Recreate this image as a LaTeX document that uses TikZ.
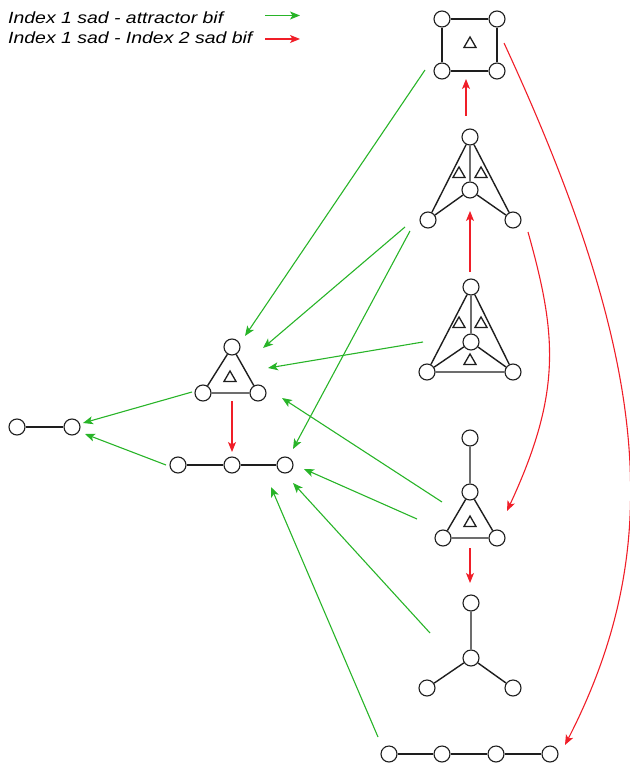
\documentclass[tikz,border=0pt]{standalone}
\usepackage{fontspec}
\setmainfont{Liberation Sans}
\newfontfamily\legendfont[FakeStretch=1.2]{Liberation Sans Italic}
\usetikzlibrary{arrows.meta,shapes.geometric}
\definecolor{grn}{RGB}{40,180,40}
\definecolor{rd}{RGB}{240,30,40}
\definecolor{edge}{RGB}{30,30,30}
\tikzset{
  vtx/.style={draw=edge,circle,fill=white,minimum size=16pt,inner sep=0pt,line width=1.1pt},
  ed/.style={draw=edge,line width=1.4pt},
  face/.style={draw=edge,regular polygon,regular polygon sides=3,minimum size=14pt,inner sep=0pt,line width=1.3pt},
  garr/.style={draw=grn,line width=1.1pt,-{Stealth[length=10pt,width=8pt,inset=2.5pt]}},
  rarr/.style={draw=rd,line width=1.1pt,-{Stealth[length=10pt,width=8pt,inset=2.5pt]}},
  legtxt/.style={anchor=base west,inner sep=0pt,font=\legendfont\fontsize{16.2}{18}\selectfont}
}
\begin{document}
\begin{tikzpicture}[x=1pt,y=-1pt]
\useasboundingbox (0,0) rectangle (629,770);
% legend
\node[legtxt] (l1) at (8,23.3) {Index 1 sad - attractor bif};
\node[legtxt] (l2) at (8,43.3) {Index 1 sad - Index 2 sad bif};
\coordinate (lg1) at (265,15.5); \coordinate (lg2) at (300,15.5);
\coordinate (lr1) at (265,39); \coordinate (lr2) at (300,39);
\draw[garr] (lg1) -- (lg2);
\draw[rarr] (lr1) -- (lr2);

% arrow endpoints (drawn first so nodes sit on top)
\coordinate (g1s) at (425,70);  \coordinate (g1e) at (245,336);
\coordinate (g2s) at (405,227); \coordinate (g2e) at (263,348);
\coordinate (g3s) at (410,231); \coordinate (g3e) at (293,449);
\coordinate (g4s) at (423,342); \coordinate (g4e) at (268,368);
\coordinate (g5s) at (442,502); \coordinate (g5e) at (282,398);
\coordinate (g6s) at (417,519); \coordinate (g6e) at (304,469);
\coordinate (g7s) at (430,633); \coordinate (g7e) at (293,483);
\coordinate (g8s) at (378,737); \coordinate (g8e) at (271,487);
\coordinate (g9s) at (192,392); \coordinate (g9e) at (83,423);
\coordinate (g10s) at (166,465); \coordinate (g10e) at (85,434);
\coordinate (r1s) at (466,116); \coordinate (r1e) at (466,79);
\coordinate (r2s) at (470,272); \coordinate (r2e) at (470,211);
\coordinate (r3s) at (232,401); \coordinate (r3e) at (232,452);
\coordinate (r4s) at (470,548); \coordinate (r4e) at (470,583);
\coordinate (r5s) at (528,232); \coordinate (r5e) at (507,511);
\coordinate (r6s) at (504,43);  \coordinate (r6e) at (565,745);

\foreach \a in {1,...,10} \draw[garr] (g\a s) -- (g\a e);
\foreach \a in {1,...,4} \draw[rarr] (r\a s) -- (r\a e);
\draw[rarr] (r5s) .. controls (556.6,334) and (562.4,391.7) .. (r5e);
\draw[rarr] (r6s) .. controls (652,363) and (666,548) .. (r6e);

% square
\node[vtx] (s1) at (442,19) {}; \node[vtx] (s2) at (497,19) {};
\node[vtx] (s3) at (442,71) {}; \node[vtx] (s4) at (497,71) {};
\node[face] (sf) at (470,44) {};
\draw[ed] (s1) -- (s2) (s2) -- (s4) (s4) -- (s3) (s3) -- (s1);

% shape A
\node[vtx] (aT) at (470,137) {}; \node[vtx] (aC) at (470,190) {};
\node[vtx] (aL) at (428,220) {}; \node[vtx] (aR) at (513,220) {};
\node[face] (af1) at (459,174) {}; \node[face] (af2) at (481,174) {};
\draw[ed] (aT) -- (aC) (aT) -- (aL) (aT) -- (aR) (aC) -- (aL) (aC) -- (aR);

% shape B
\node[vtx] (bT) at (471,287) {}; \node[vtx] (bC) at (471,342) {};
\node[vtx] (bL) at (427,372) {}; \node[vtx] (bR) at (513,372) {};
\node[face] (bf1) at (459,324) {}; \node[face] (bf2) at (481,324) {};
\node[face] (bf3) at (470,361) {};
\draw[ed] (bT) -- (bC) (bT) -- (bL) (bT) -- (bR) (bC) -- (bL) (bC) -- (bR) (bL) -- (bR);

% triangle C
\node[vtx] (cT) at (232,347) {}; \node[vtx] (cL) at (203,393) {};
\node[vtx] (cR) at (258,393) {};
\node[face] (cf) at (230,378) {};
\draw[ed] (cT) -- (cL) (cL) -- (cR) (cR) -- (cT);

% line D
\node[vtx] (d1) at (17,427) {}; \node[vtx] (d2) at (72,427) {};
\draw[ed] (d1) -- (d2);

% line E
\node[vtx] (e1) at (178,465) {}; \node[vtx] (e2) at (232,465) {};
\node[vtx] (e3) at (285,465) {};
\draw[ed] (e1) -- (e2) (e2) -- (e3);

% shape F
\node[vtx] (fT) at (470,438) {}; \node[vtx] (fC) at (470,492) {};
\node[vtx] (fL) at (443,538) {}; \node[vtx] (fR) at (497,538) {};
\node[face] (ff) at (470,523) {};
\draw[ed] (fT) -- (fC) (fC) -- (fL) (fC) -- (fR) (fL) -- (fR);

% star G
\node[vtx] (gT) at (471,603) {}; \node[vtx] (gC) at (471,658) {};
\node[vtx] (gL) at (427,688) {}; \node[vtx] (gR) at (513,688) {};
\draw[ed] (gT) -- (gC) (gC) -- (gL) (gC) -- (gR);

% line H
\node[vtx] (h1) at (389,754) {}; \node[vtx] (h2) at (442,754) {};
\node[vtx] (h3) at (496,754) {}; \node[vtx] (h4) at (550,754) {};
\draw[ed] (h1) -- (h2) (h2) -- (h3) (h3) -- (h4);
\end{tikzpicture}
\end{document}
